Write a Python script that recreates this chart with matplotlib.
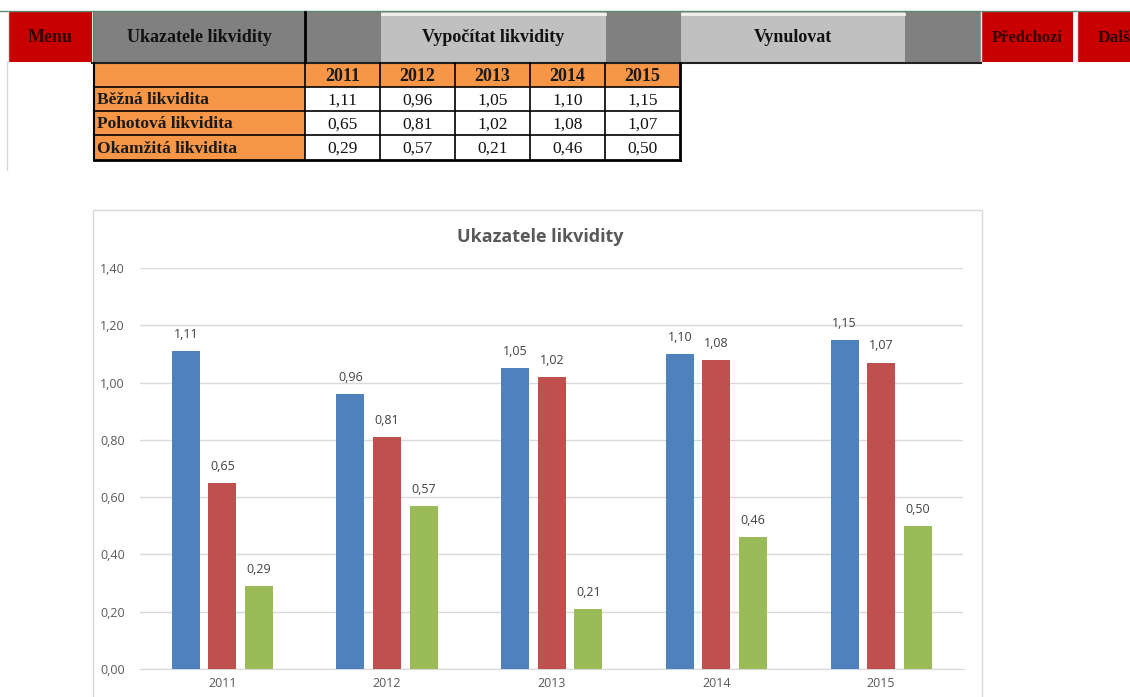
import matplotlib
matplotlib.use("Agg")
import matplotlib.pyplot as plt
from matplotlib.patches import Rectangle
import numpy as np

# liquidity ratios per year
years = ["2011", "2012", "2013", "2014", "2015"]
bezna = [1.11, 0.96, 1.05, 1.10, 1.15]
pohotova = [0.65, 0.81, 1.02, 1.08, 1.07]
okamzita = [0.29, 0.57, 0.21, 0.46, 0.50]
row_labels = ["Běžná likvidita", "Pohotová likvidita", "Okamžitá likvidita"]

chart_title = "Ukazatele likvidity"
y_ticks = [0.0, 0.2, 0.4, 0.6, 0.8, 1.0, 1.2, 1.4]

# toolbar buttons: (text, left, right, face, fontsize)
RED = "#c80000"
DARK = "#808080"
LIGHT = "#c0c0c0"
buttons = [
    ("Menu", 8, 92, RED, 13),
    ("Ukazatele likvidity", 93, 305, DARK, 13),
    ("", 305, 381, DARK, 13),
    ("Vypočítat likvidity", 381, 606, LIGHT, 13),
    ("", 606, 681, DARK, 13),
    ("Vynulovat", 681, 905, LIGHT, 13),
    ("", 905, 981, DARK, 13),
    ("Předchozí", 981, 1073, RED, 12),
    ("Další", 1077, 1160, RED, 12.5),
]

W, H = 1130, 697
fig = plt.figure(figsize=(W / 100, H / 100), dpi=100)
fig.patch.set_facecolor("white")

# pixel-space overlay for the sheet controls and table
sheet = fig.add_axes([0, 0, 1, 1])
sheet.set_xlim(0, W)
sheet.set_ylim(H, 0)
sheet.axis("off")

serif = ["Liberation Serif", "DejaVu Serif"]
sans = ["Open Sans", "DejaVu Sans"]


def fmt(v):
    return f"{v:.2f}".replace(".", ",")


# toolbar
sheet.plot([0, W], [11, 11], color="#5a8a70", lw=1)
for text, x0, x1, face, fs in buttons:
    sheet.add_patch(Rectangle((x0, 12), x1 - x0, 50, facecolor=face, edgecolor="none"))
    if face == LIGHT:
        sheet.plot([x0 + 1, x1 - 1], [13.5, 13.5], color="#f2f2f2", lw=2)
    if face == RED:
        sheet.plot([x0, x0], [12, 62], color="#e8e8e8", lw=1)
    if text:
        color = "#300000" if face == RED else "#111111"
        cx = (x0 + x1) / 2 if x1 <= W else x0 + 40
        sheet.text(cx, 38, text, ha="center", va="center", family=serif, weight="bold",
                   fontsize=fs, color=color)
sheet.plot([92, 981], [62.5, 62.5], color="#202020", lw=1.5)
sheet.plot([305, 305], [12, 62], color="#000000", lw=2)
sheet.plot([93, 93], [12, 62], color="#4a8a6a", lw=1)

# data table
ORANGE = "#f79646"
col_edges = [94, 305, 380, 455, 530, 605, 680]
row_edges = [63, 87, 111, 135, 160]
series = [bezna, pohotova, okamzita]
sheet.add_patch(Rectangle((col_edges[0], row_edges[0]), col_edges[-1] - col_edges[0],
                          row_edges[1] - row_edges[0], facecolor=ORANGE, edgecolor="none"))
sheet.add_patch(Rectangle((col_edges[0], row_edges[1]), col_edges[1] - col_edges[0],
                          row_edges[-1] - row_edges[1], facecolor=ORANGE, edgecolor="none"))
for j, yr in enumerate(years):
    cx = (col_edges[j + 1] + col_edges[j + 2]) / 2
    sheet.text(cx, (row_edges[0] + row_edges[1]) / 2 + 1.5, yr, ha="center", va="center",
               family=serif, weight="bold", fontsize=13, color="#1a1a1a")
for i, (lab, vals) in enumerate(zip(row_labels, series)):
    cy = (row_edges[i + 1] + row_edges[i + 2]) / 2 + 1.5
    sheet.text(col_edges[0] + 3, cy, lab, ha="left", va="center", family=serif,
               weight="bold", fontsize=12.5, color="#1a1a1a")
    for j, v in enumerate(vals):
        cx = (col_edges[j + 1] + col_edges[j + 2]) / 2
        sheet.text(cx, cy, fmt(v), ha="center", va="center", family=serif,
                   fontsize=12.5, color="#111111")
# grid lines of the table
for y in row_edges[1:-1]:
    sheet.plot([col_edges[0], col_edges[-1]], [y, y], color="black", lw=1.2)
for x in col_edges[1:-1]:
    sheet.plot([x, x], [row_edges[0], row_edges[-1]], color="black", lw=1.2)
sheet.plot([col_edges[0], col_edges[0]], [row_edges[0], row_edges[-1]], color="black", lw=1.5)
sheet.plot([col_edges[-1], col_edges[-1]], [row_edges[0], row_edges[-1]], color="black", lw=2)
sheet.plot([col_edges[0], col_edges[-1]], [row_edges[-1], row_edges[-1]], color="black", lw=2)
sheet.plot([7, 7], [62, 170], color="#d8d8d8", lw=1)

# chart frame
sheet.add_patch(Rectangle((93, 210), 982 - 93, 500, facecolor="white",
                          edgecolor="#d9d9d9", lw=1))
sheet.text(540, 237, chart_title, ha="center", va="center", family=sans,
           weight="bold", fontsize=13, color="#595959")

# bar chart
ax = fig.add_axes([140 / W, (H - 669) / H, (963.5 - 140) / W, (669 - 268) / H])
ax.set_facecolor("none")
x = np.arange(len(years))
width = 0.17
step = 0.222
colors = ["#4f81bd", "#c0504d", "#9bbb59"]
for k, (vals, c) in enumerate(zip(series, colors)):
    bars = ax.bar(x + (k - 1) * step, vals, width, color=c, zorder=3)
    for b, v in zip(bars, vals):
        ax.text(b.get_x() + b.get_width() / 2, v + 0.035, fmt(v), ha="center",
                va="bottom", fontsize=9, color="#404040", family=sans)

ax.set_xlim(-0.5, len(years) - 0.5)
ax.set_ylim(0, 1.4)
ax.set_yticks(y_ticks)
ax.set_yticklabels([fmt(t) for t in y_ticks], family=sans, fontsize=9, color="#595959")
ax.set_xticks(x)
ax.set_xticklabels(years, family=sans, fontsize=9, color="#595959")
ax.tick_params(length=0, pad=6)
ax.tick_params(axis="y", pad=11)
ax.grid(axis="y", color="#d9d9d9", lw=1, zorder=0)
for s in ["top", "right", "left"]:
    ax.spines[s].set_visible(False)
ax.spines["bottom"].set_color("#d9d9d9")

fig.savefig("out.png", dpi=100)
